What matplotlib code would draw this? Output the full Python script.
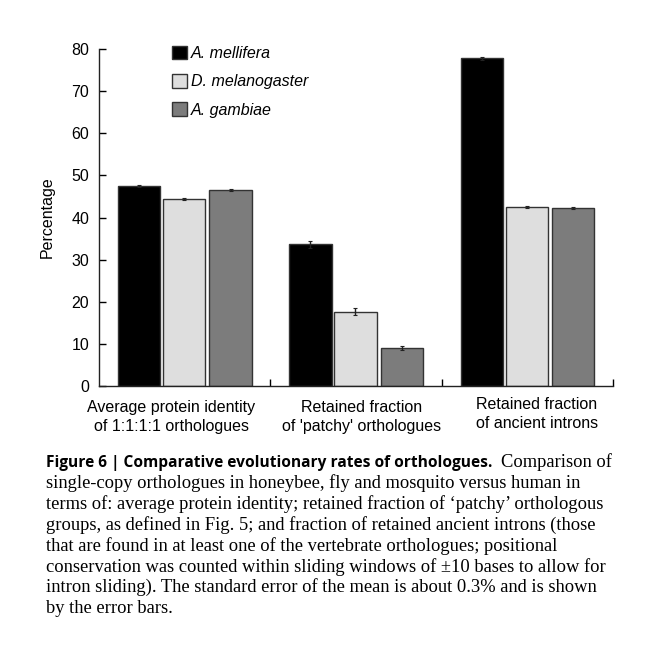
import matplotlib
matplotlib.use("Agg")
import matplotlib.pyplot as plt
import numpy as np

species = ["A. mellifera", "D. melanogaster", "A. gambiae"]
categories = ["Average protein identity\nof 1:1:1:1 orthologues",
              "Retained fraction\nof 'patchy' orthologues",
              "Retained fraction\nof ancient introns"]
values = {
    "A. mellifera": [47.5, 33.6, 77.8],
    "D. melanogaster": [44.4, 17.6, 42.5],
    "A. gambiae": [46.5, 9.0, 42.3],
}
errors = {
    "A. mellifera": [0.3, 0.9, 0.3],
    "D. melanogaster": [0.3, 0.8, 0.3],
    "A. gambiae": [0.3, 0.5, 0.3],
}
colors = ["#000000", "#dedede", "#7c7c7c"]
yticks = [0, 10, 20, 30, 40, 50, 60, 70, 80]

plt.rcParams['font.family'] = ['Liberation Sans', 'DejaVu Sans']
W, H = 662, 646
fig = plt.figure(figsize=(W/100, H/100), dpi=100)
ax = fig.add_axes([99/W, 1-386/H, (613-99)/W, (386-49)/H])

width = 0.247
offsets = [-0.266, -0.003, 0.268]
x = np.arange(len(categories)) + 0.5
for i, sp in enumerate(species):
    ax.bar(x + offsets[i], values[sp], width, color=colors[i], edgecolor="#333333",
           linewidth=1.0, yerr=errors[sp], error_kw=dict(ecolor="#222222", elinewidth=1.0,
           capsize=1.2, capthick=0.8), label=sp, zorder=2)

ax.set_xlim(0, 3)
ax.set_ylim(0, 80)
ax.set_yticks(yticks)
ax.set_yticklabels([str(t) for t in yticks], fontsize=11.5)
ax.set_xticks([1, 2, 3])
ax.set_xticklabels([])
ax.tick_params(axis='y', direction='in', length=5, width=1.0, pad=7)
ax.tick_params(axis='x', direction='in', length=5, width=1.0)
for s in ["top", "right"]:
    ax.spines[s].set_visible(False)
for s in ["left", "bottom"]:
    ax.spines[s].set_linewidth(1.0)
    ax.spines[s].set_color("#222222")
ax.set_ylabel("Percentage", fontsize=11.5, labelpad=12)

label_x = [171, 362, 537]
label_y = [417, 417, 414]
for lx, ly, c in zip(label_x, label_y, categories):
    fig.text(lx/W, 1-ly/H, c, ha='center', va='center', fontsize=11.5, linespacing=1.35)

leg = ax.legend(loc='upper left', bbox_to_anchor=(0.142, 1.01), frameon=False,
                borderaxespad=0, borderpad=0,
                prop=dict(style='italic', size=11.5), handlelength=0.94, handleheight=0.94,
                handletextpad=0.25, labelspacing=0.82)

# Caption
fig.canvas.draw()
r = fig.canvas.get_renderer()
cap_x = 46/W
line_h = 20.9
y0 = 467
serif = ['Liberation Serif', 'DejaVu Serif']
cap_size = 13.35
t1 = fig.text(cap_x, 1-y0/H, "Figure 6 | Comparative evolutionary rates of orthologues.",
              fontsize=11.2, fontweight='bold', family=['Open Sans', 'DejaVu Sans'], va='baseline')
bb = t1.get_window_extent(renderer=r)
fig.text((bb.x1 + 9)/W, 1-y0/H, "Comparison of", fontsize=cap_size,
         family=serif, va='baseline')
lines = [
    "single-copy orthologues in honeybee, fly and mosquito versus human in",
    "terms of: average protein identity; retained fraction of \u2018patchy\u2019 orthologous",
    "groups, as defined in Fig. 5; and fraction of retained ancient introns (those",
    "that are found in at least one of the vertebrate orthologues; positional",
    "conservation was counted within sliding windows of \u00b110 bases to allow for",
    "intron sliding). The standard error of the mean is about 0.3% and is shown",
    "by the error bars.",
]
for k, ln in enumerate(lines):
    fig.text(cap_x, 1-(y0 + (k+1)*line_h)/H, ln, fontsize=cap_size,
             family=serif, va='baseline')

fig.savefig("out.png", dpi=100)
